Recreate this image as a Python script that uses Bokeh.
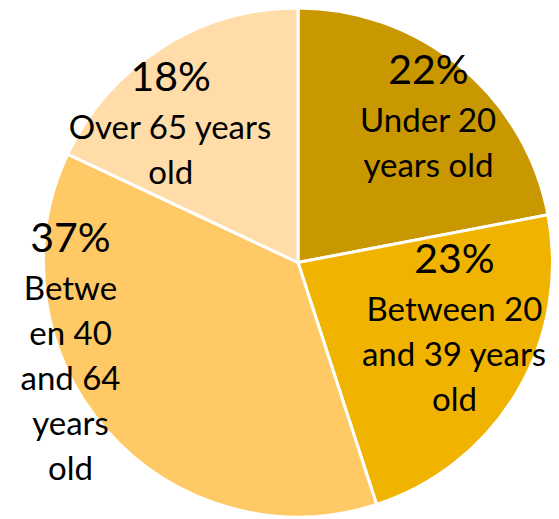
import math
from bokeh.plotting import figure
from bokeh.models import ColumnDataSource
from bokeh.core.properties import value
from bokeh.embed import file_html
from bokeh.resources import INLINE

# ---- data ----
categories = ["Under 20 years old", "Between 20 and 39 years old",
              "Between 40 and 64 years old", "Over 65 years old"]
shares = [22, 23, 37, 18]
pct_labels = ["22%", "23%", "37%", "18%"]
label_lines = [
    ["Under 20", "years old"],
    ["Between 20", "and 39 years", "old"],
    ["Betwe", "en 40", "and 64", "years", "old"],
    ["Over 65 years", "old"],
]
colors = ["#C99700", "#F0B400", "#FFC966", "#FFDCA8"]

# ---- layout ----
W, H = 559, 519
cx, cy, R = 297.5, 257.0, 254.5
# label placement: angle offset (deg) from slice mid-angle and radial fraction
lab_dang = [3.5, 26.9, -44.2, 4.1]
lab_rfrac = [0.870, 0.616, 0.895, 0.841]
text_shift = 15.0
first_gap = 50.5
line_gap = 45.0
FONT = "Lato"

total = float(sum(shares))
starts, ends, mids = [], [], []
acc = 0.0
for s in shares:
    a0 = math.pi / 2 - 2 * math.pi * acc / total
    acc += s
    a1 = math.pi / 2 - 2 * math.pi * acc / total
    starts.append(a0)
    ends.append(a1)
    mids.append((a0 + a1) / 2)

src = ColumnDataSource(dict(cat=categories, share=shares, start=starts, end=ends, color=colors))

p = figure(width=W, height=H, x_range=(0, W), y_range=(0, H),
           output_backend="svg", toolbar_location=None, min_border=0,
           match_aspect=False)
p.axis.visible = False
p.grid.visible = False
p.outline_line_color = None
p.background_fill_color = "white"

p.wedge(x=cx, y=cy, radius=R, start_angle="start", end_angle="end",
        direction="clock", fill_color="color", line_color="white",
        line_width=3, source=src)

px, py, ptxt = [], [], []
lx, ly, ltxt = [], [], []
for i in range(len(shares)):
    ang = mids[i] + math.radians(lab_dang[i])
    ax = cx + lab_rfrac[i] * R * math.cos(ang)
    ay = cy + lab_rfrac[i] * R * math.sin(ang) + text_shift
    px.append(ax); py.append(ay); ptxt.append(pct_labels[i])
    for j, t in enumerate(label_lines[i]):
        lx.append(ax)
        ly.append(ay - first_gap - line_gap * j)
        ltxt.append(t)

p.text(x=px, y=py, text=ptxt, text_align="center", text_baseline="alphabetic",
       text_font=value(FONT), text_font_size="41px", text_color="black")
p.text(x=lx, y=ly, text=ltxt, text_align="center", text_baseline="alphabetic",
       text_font=value(FONT), text_font_size="33px", text_color="black")

open("out.html", "w").write(file_html(p, INLINE))
